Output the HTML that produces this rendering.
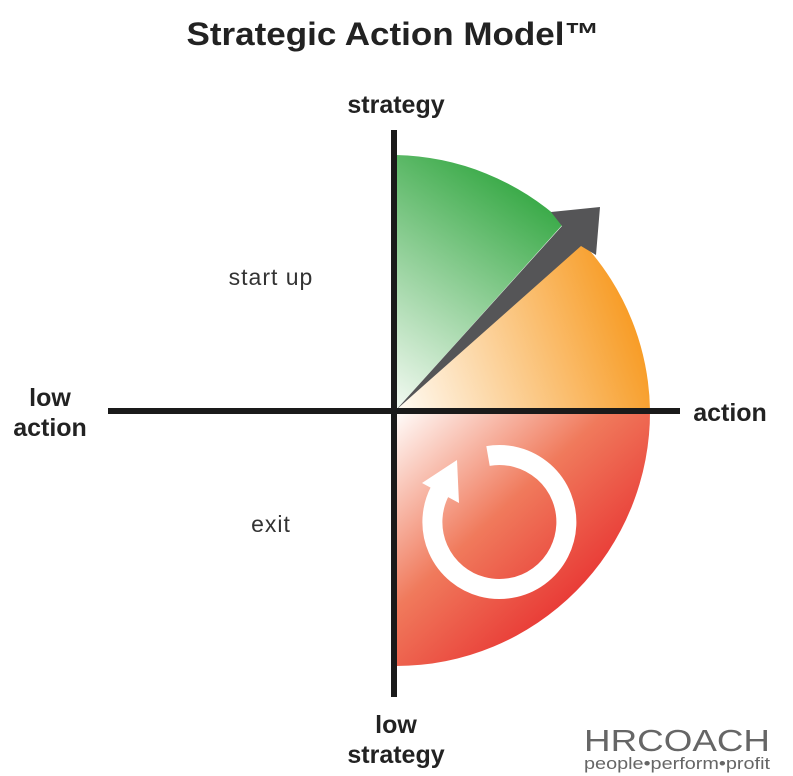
<!DOCTYPE html>
<html><head><meta charset="utf-8"><style>
html,body{margin:0;padding:0;background:#fff;}
svg{display:block;font-family:"Liberation Sans",sans-serif;}
</style></head><body>
<svg width="793" height="776" viewBox="0 0 793 776">
<defs>
<linearGradient id="gG" x1="396" y1="410" x2="540" y2="200" gradientUnits="userSpaceOnUse"><stop offset="0" stop-color="#f4faf3"/><stop offset="1" stop-color="#3aaa48"/></linearGradient>
<linearGradient id="gO" x1="400" y1="410" x2="645" y2="320" gradientUnits="userSpaceOnUse"><stop offset="0" stop-color="#fffaf2"/><stop offset="1" stop-color="#f7981d"/></linearGradient>
<linearGradient id="gR" x1="400" y1="415" x2="610" y2="640" gradientUnits="userSpaceOnUse"><stop offset="0" stop-color="#fff8f5"/><stop offset="0.45" stop-color="#f07a5c"/><stop offset="1" stop-color="#e51c24"/></linearGradient>
</defs>
<text x="393" y="45" text-anchor="middle" font-size="32" font-weight="bold" fill="#222" textLength="413" lengthAdjust="spacingAndGlyphs">Strategic Action Model™</text>
<path d="M396 410 L396 155 A255 255 0 0 1 564 223 Z" fill="url(#gG)"/>
<path d="M396 410 L583 243 A252 252 0 0 1 650 410 Z" fill="url(#gO)"/>
<path d="M396 410 L650 410 A254 254 0 0 1 396 666 Z" fill="url(#gR)"/>
<polygon points="396,410 562,226 551,212 600,207 596,255 581,246" fill="#555557"/>
<path d="M488 456 A67 67 0 1 1 440 491" fill="none" stroke="#fff" stroke-width="20"/>
<polygon points="422,483 457,460 459,503" fill="#fff"/>
<rect x="108" y="408" width="572" height="6" fill="#1a1a1a"/>
<rect x="391" y="130" width="6" height="567" fill="#1a1a1a"/>
<text x="396" y="113" text-anchor="middle" font-size="25" font-weight="bold" fill="#222">strategy</text>
<text x="396" y="733" text-anchor="middle" font-size="25" font-weight="bold" fill="#222">low</text>
<text x="396" y="763" text-anchor="middle" font-size="25" font-weight="bold" fill="#222">strategy</text>
<text x="50" y="406" text-anchor="middle" font-size="25" font-weight="bold" fill="#222">low</text>
<text x="50" y="436" text-anchor="middle" font-size="25" font-weight="bold" fill="#222">action</text>
<text x="730" y="421" text-anchor="middle" font-size="25" font-weight="bold" fill="#222">action</text>
<text x="271" y="285" text-anchor="middle" font-size="23" fill="#333" letter-spacing="1">start up</text>
<text x="271" y="532" text-anchor="middle" font-size="23" fill="#333" letter-spacing="1">exit</text>
<text x="584" y="751" font-size="31" fill="#666" textLength="186" lengthAdjust="spacingAndGlyphs">HRCOACH</text>
<text x="584" y="769" font-size="17" fill="#666" textLength="186" lengthAdjust="spacingAndGlyphs">people•perform•profit</text>
</svg>
</body></html>
